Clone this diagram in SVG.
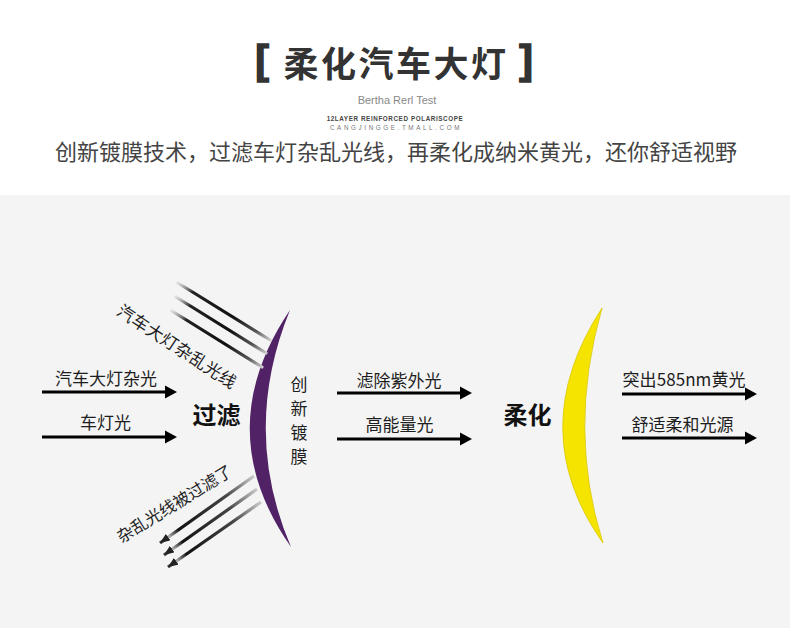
<svg xmlns="http://www.w3.org/2000/svg" width="790" height="628" viewBox="0 0 790 628">
<style>
.cjk{font-family:"Noto Sans CJK SC","Noto Sans",sans-serif}
.lbl{font-size:17px;fill:#1e1e1e;text-anchor:middle}
.big{font-size:24px;font-weight:700;fill:#111;text-anchor:middle}
.arw line{stroke:#000;stroke-width:3}
.arw polygon{fill:#000}
.up{stroke:url(#gUp);stroke-width:3.2;stroke-linecap:round}
.dn{stroke:url(#gDn);stroke-width:3.2}
.brk{font-family:"Liberation Sans",sans-serif;font-weight:700;font-size:41px;fill:#333;stroke:#333;stroke-width:1.6;text-anchor:middle}
</style>
<defs>
<linearGradient id="gUp" x1="0" y1="0" x2="1" y2="1">
<stop offset="0" stop-color="#bbb" stop-opacity="0.4"/>
<stop offset="0.16" stop-color="#222"/>
<stop offset="0.6" stop-color="#111"/>
<stop offset="0.85" stop-color="#555"/>
<stop offset="1" stop-color="#ccc"/>
</linearGradient>
<linearGradient id="gDn" x1="1" y1="0" x2="0" y2="1">
<stop offset="0" stop-color="#ccc"/>
<stop offset="0.3" stop-color="#444"/>
<stop offset="0.8" stop-color="#111"/>
<stop offset="0.9" stop-color="#aaa"/>
<stop offset="1" stop-color="#333"/>
</linearGradient>
<marker id="mh" viewBox="0 0 10 8" refX="10" refY="4" markerUnits="userSpaceOnUse" markerWidth="10" markerHeight="8" orient="auto">
<path d="M0,0 L10,4 L0,8 Z" fill="#222"/>
</marker>
</defs>
<rect x="0" y="0" width="790" height="628" fill="#fff"/>
<rect x="0" y="195" width="790" height="433" fill="#f4f4f4"/>

<g id="header">
<text class="brk" x="262" y="74">[</text>
<text class="brk" x="526" y="74">]</text>
<text class="cjk" x="396" y="77" font-size="35" font-weight="700" fill="#333" text-anchor="middle" letter-spacing="2.5">柔化汽车大灯</text>
<text x="397" y="104" font-family="Liberation Sans,Arial,sans-serif" font-size="11" fill="#888" text-anchor="middle">Bertha Rerl Test</text>
<text x="395" y="121" font-family="Liberation Sans,Arial,sans-serif" font-size="6.3" font-weight="700" fill="#444" text-anchor="middle" letter-spacing="0.6">12LAYER REINFORCED POLARISCOPE</text>
<text x="396" y="130" font-family="Liberation Sans,Arial,sans-serif" font-size="6.3" fill="#777" text-anchor="middle" letter-spacing="2.6">CANGJINGGE.TMALL.COM</text>
<text class="cjk" x="396" y="160" font-size="22" fill="#444" text-anchor="middle">创新镀膜技术，过滤车灯杂乱光线，再柔化成纳米黄光，还你舒适视野</text>
</g>

<g id="lens-purple">
<path d="M290,310 Q209,430 291,547 Q241,430 290,310 Z" fill="#512366"/>
</g>
<g id="lens-yellow">
<path d="M602,308 Q523,430 603,543 Q567,430 602,308 Z" fill="#f5e400" stroke="#d9c800" stroke-width="0.8"/>
</g>

<g id="connectors">
<line class="up" x1="178" y1="283" x2="270" y2="340"/>
<line class="up" x1="176" y1="297" x2="266" y2="353"/>
<line class="up" x1="172" y1="311" x2="262" y2="367"/>
<line class="dn" x1="254" y1="476" x2="160" y2="543" marker-end="url(#mh)"/>
<line class="dn" x1="257" y1="489" x2="164" y2="555" marker-end="url(#mh)"/>
<line class="dn" x1="261" y1="502" x2="168" y2="567" marker-end="url(#mh)"/>
<g class="arw">
<line x1="42" y1="392" x2="167" y2="392"/><polygon points="165,385.5 177,392 165,398.5"/>
<line x1="42" y1="437" x2="167" y2="437"/><polygon points="165,430.5 177,437 165,443.5"/>
<line x1="337" y1="393" x2="462" y2="393"/><polygon points="460,386.5 472,393 460,399.5"/>
<line x1="337" y1="439" x2="462" y2="439"/><polygon points="460,432.5 472,439 460,445.5"/>
<line x1="622" y1="394" x2="747" y2="394"/><polygon points="745,387.5 757,394 745,400.5"/>
<line x1="622" y1="438" x2="747" y2="438"/><polygon points="745,431.5 757,438 745,444.5"/>
</g>
</g>

<g id="labels">
<text class="cjk lbl" x="106" y="385">汽车大灯杂光</text>
<text class="cjk lbl" x="105.5" y="429">车灯光</text>
<text class="cjk big" x="216.5" y="424">过滤</text>
<text class="cjk lbl" x="399" y="387">滤除紫外光</text>
<text class="cjk lbl" x="399.5" y="431">高能量光</text>
<text class="cjk big" x="527.5" y="424">柔化</text>
<text class="cjk lbl" x="684" y="386" textLength="123" lengthAdjust="spacing">突出585nm黄光</text>
<text class="cjk lbl" x="682.5" y="431">舒适柔和光源</text>
<g class="cjk" font-size="17" fill="#1e1e1e" text-anchor="middle">
<text x="299" y="391">创</text>
<text x="299" y="415">新</text>
<text x="299" y="439">镀</text>
<text x="299" y="463">膜</text>
</g>
<text class="cjk" font-size="17" fill="#1e1e1e" text-anchor="middle" dominant-baseline="central" transform="translate(177.5,345.5) rotate(33)" letter-spacing="0.3">汽车大灯杂乱光线</text>
<text class="cjk" font-size="16.5" fill="#1e1e1e" text-anchor="middle" dominant-baseline="central" transform="translate(174,503) rotate(-31.5)">杂乱光线被过滤了</text>
</g>
</svg>
